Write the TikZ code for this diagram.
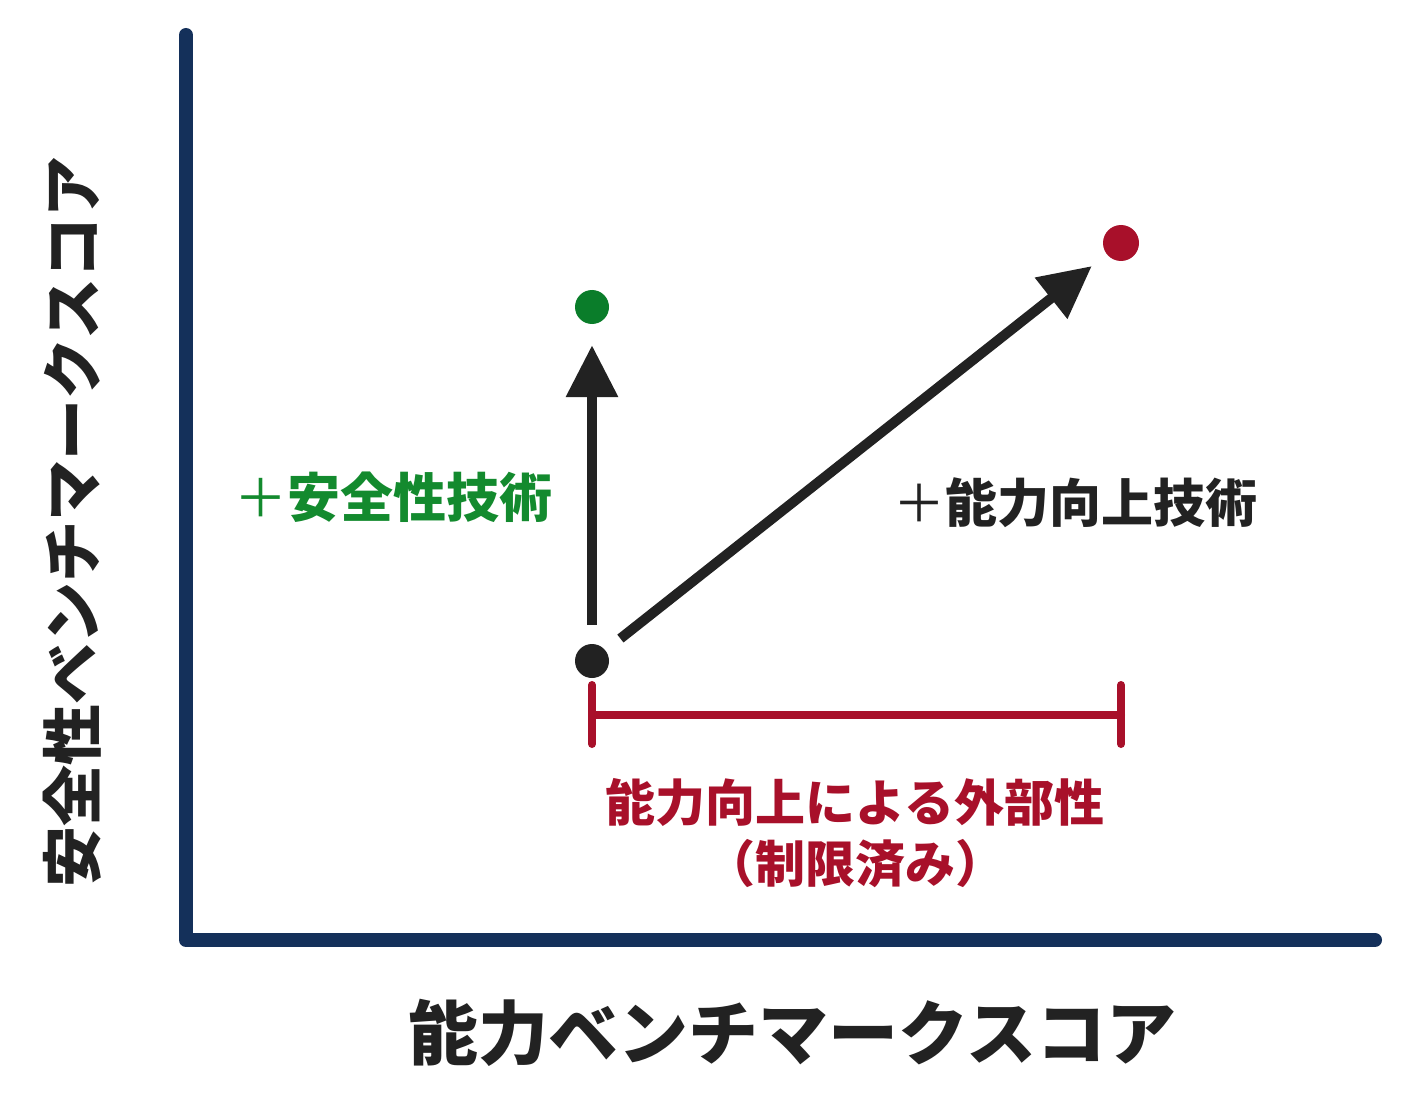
\documentclass[tikz,border=0pt]{standalone}
\usepackage{fontspec}
\setmainfont{Noto Sans CJK JP}
\usetikzlibrary{arrows.meta}
\definecolor{navy}{HTML}{14305A}
\definecolor{ink}{HTML}{222222}
\definecolor{sgreen}{HTML}{138A2E}
\definecolor{dgreen}{HTML}{0A7D2A}
\definecolor{crim}{HTML}{A8102A}
\begin{document}
\begin{tikzpicture}[x=1pt,y=-1pt,
  dotnode/.style={circle,inner sep=0pt,minimum size=#1},
  bigarrow/.style={line width=10pt,ink,-{Triangle[length=52pt,width=50pt]}},
  lbl/.style={font=\fontsize{#1}{#1}\selectfont\bfseries,inner sep=0pt},
  axlbl/.style={font=\fontsize{#1}{#1}\selectfont\bfseries,inner sep=0pt,text=ink}]
\useasboundingbox[fill=white] (0,0) rectangle (1417,1110);
% axes
\coordinate (ytop) at (186,35);
\coordinate (orig) at (186,940);
\coordinate (xend) at (1375,940);
\draw[navy,line width=14pt,line cap=round,line join=round] (ytop) -- (orig) -- (xend);
% dots
\node[dotnode=34pt,fill=ink] (base) at (592,661) {};
\node[dotnode=34pt,fill=dgreen] (safe) at (592,307) {};
\node[dotnode=36pt,fill=crim] (cap) at (1121,243) {};
% arrows
\draw[bigarrow,shorten <=19pt,shorten >=21pt] (base) -- (safe);
\draw[bigarrow,shorten <=19pt,shorten >=19pt] (base) -- (cap);
% bracket
\coordinate (bl) at (592,715);
\coordinate (br) at (1121,715);
\draw[crim,line width=8pt,line cap=round] (bl) -- (br);
\draw[crim,line width=8pt,line cap=round] ([yshift=-29pt]bl) -- ([yshift=30pt]bl);
\draw[crim,line width=8pt,line cap=round] ([yshift=-29pt]br) -- ([yshift=30pt]br);
% labels
\node[lbl=53,text=sgreen] (lsafe) at (393,497) {{\mdseries ＋}安全性技術};
\node[lbl=52,text=ink] (lcap) at (1075,503) {{\mdseries ＋}能力向上技術};
\node[lbl=50,text=crim] (lext) at (855,802) {能力向上による外部性};
\node[lbl=50,text=crim] (lext2) at (855,864) {（制限済み）};
\node[axlbl=70] (xlab) at (792,1033) {能力ベンチマークスコア};
\node[axlbl=61,rotate=90] (ylab) at (72,522) {安全性ベンチマークスコア};
\end{tikzpicture}
\end{document}
